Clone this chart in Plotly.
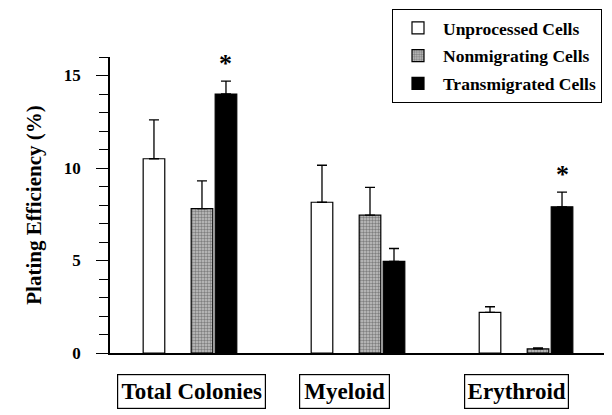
import plotly.graph_objects as go

categories = ["Total Colonies", "Myeloid", "Erythroid"]
unprocessed = [10.5, 8.15, 2.2]
unprocessed_err = [2.1, 2.0, 0.3]
nonmigrating = [7.8, 7.45, 0.22]
nonmigrating_err = [1.5, 1.5, 0.05]
transmigrated = [14.0, 4.95, 7.9]
transmigrated_err = [0.7, 0.7, 0.8]
significant = [True, False, True]
y_ticks = [0, 5, 10, 15]

FONT = "Liberation Serif, Times New Roman, serif"
slot = 24 / 168.0
bw = slot * 0.9

# page body has an 8px margin; figure is sized to fit the window
FW, FH = 604, 407


def off(k):
    return (k - 1.5) * slot - bw / 2


fig = go.Figure()
err_style = dict(type="data", symmetric=False, color="black", thickness=1.3, width=5)

fig.add_trace(go.Bar(
    x=categories, y=unprocessed, name="Unprocessed Cells",
    width=bw, offset=off(0),
    marker=dict(color="white", line=dict(color="black", width=1.2)),
    error_y=dict(array=unprocessed_err, arrayminus=[0] * 3, **err_style),
    legendgroup="a",
))
fig.add_trace(go.Bar(
    x=categories, y=nonmigrating, name="Nonmigrating Cells",
    width=bw, offset=off(2),
    marker=dict(color="#a8a8a8", line=dict(color="black", width=1.2),
                pattern=dict(shape=".", size=3, solidity=0.5,
                             fgcolor="#3a3a3a", bgcolor="#c4c4c4")),
    error_y=dict(array=nonmigrating_err, arrayminus=[0] * 3, **err_style),
    legendgroup="b",
))
fig.add_trace(go.Bar(
    x=categories, y=transmigrated, name="Transmigrated Cells",
    width=bw, offset=off(3),
    marker=dict(color="black", line=dict(color="black", width=1.2)),
    error_y=dict(array=transmigrated_err, arrayminus=[0] * 3, **err_style),
    legendgroup="c",
))

annotations = []
for i, (v, e, s) in enumerate(zip(transmigrated, transmigrated_err, significant)):
    if s:
        annotations.append(dict(
            x=i + 1.5 * slot, y=v + e, xref="x", yref="y",
            text="*", showarrow=False, yanchor="bottom",
            font=dict(family=FONT, size=26, color="black", weight="bold"),
            yshift=1,
        ))

box_specs = [(143, 2), (85, -14), (99, -10)]
for cat, (w, xs) in zip(categories, box_specs):
    annotations.append(dict(
        x=cat, y=0, xref="x", yref="paper", text=cat, showarrow=False,
        yanchor="middle", yshift=-38, xshift=xs, width=w, height=29,
        borderpad=2, bordercolor="black", borderwidth=1.2,
        font=dict(family=FONT, size=23, color="black", weight="bold"),
    ))

fig.update_layout(
    width=FW, height=FH,
    margin=dict(l=102, r=5, t=49, b=62, autoexpand=False),
    paper_bgcolor="white", plot_bgcolor="white",
    barmode="overlay",
    showlegend=True,
    legend=dict(
        xref="container", yref="container",
        x=384 / FW, y=1 - 1 / FH, xanchor="left", yanchor="top",
        bordercolor="black", borderwidth=1, bgcolor="white",
        font=dict(family=FONT, size=17.5, color="black", weight="bold"),
        tracegroupgap=2, itemwidth=40,
    ),
    annotations=annotations,
    xaxis=dict(
        type="category", range=[-0.476, 2.482],
        showticklabels=False, ticks="", showgrid=False,
        showline=True, linecolor="black", linewidth=1.5,
    ),
    yaxis=dict(
        range=[0, 16], tickvals=y_ticks, ticktext=[str(t) for t in y_ticks],
        ticks="outside", ticklen=12, tickwidth=1.2, tickcolor="black",
        ticklabelstandoff=12,
        showline=True, linecolor="black", linewidth=1.5,
        showgrid=False, zeroline=False, automargin=False,
        tickfont=dict(family=FONT, size=17, color="black", weight="bold"),
        minor=dict(dtick=1, ticks="outside", ticklen=9, tickwidth=1.2,
                   tickcolor="black", showgrid=False),
        title=dict(text="Plating Efficiency (%)", standoff=16,
                   font=dict(family=FONT, size=21, color="black", weight="bold")),
    ),
)

fig.write_html("out.html")
